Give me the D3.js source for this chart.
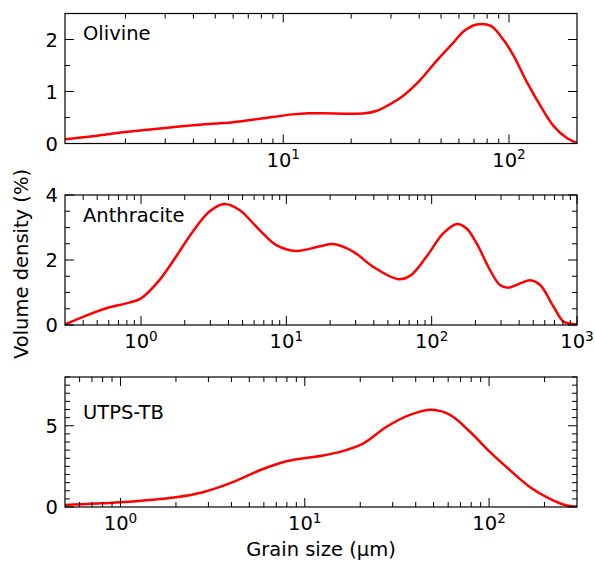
<!DOCTYPE html>
<html><head><meta charset="utf-8">
<script src="https://cdn.jsdelivr.net/npm/d3@7"></script>
<style>body{margin:0;background:#fff} text{font-family:"DejaVu Sans",sans-serif;fill:#000}</style>
</head><body><svg id="c" width="595" height="562"></svg>
<script>
// ---------- data ----------
const panelNames = ["Olivine", "Anthracite", "UTPS-TB"];

const olivineSize    = [1.08, 1.5, 2.0, 3.0, 4.0, 6.0, 8.0, 11, 13, 15, 23, 26, 29, 34, 40, 48, 57, 63, 72, 83, 95, 105, 120, 138, 158, 181, 200];
const olivineDensity = [0.08, 0.15, 0.22, 0.30, 0.35, 0.41, 0.48, 0.56, 0.58, 0.58, 0.58, 0.63, 0.73, 0.92, 1.20, 1.60, 1.95, 2.16, 2.29, 2.26, 1.98, 1.68, 1.18, 0.72, 0.33, 0.10, 0.01];

const anthraciteSize    = [0.3, 0.46, 0.60, 0.83, 1.0, 1.34, 1.74, 2.27, 2.96, 3.75, 4.76, 6.55, 8.53, 11.7, 17, 21, 28.8, 39.6, 59, 71, 92, 120, 149, 174, 204, 252, 295, 337, 406, 476, 558, 690, 809, 949, 1000];
const anthraciteDensity = [0.02, 0.36, 0.54, 0.69, 0.82, 1.38, 2.10, 2.87, 3.49, 3.72, 3.54, 2.92, 2.46, 2.28, 2.42, 2.49, 2.26, 1.79, 1.41, 1.51, 2.10, 2.82, 3.11, 2.97, 2.51, 1.69, 1.23, 1.15, 1.28, 1.38, 1.23, 0.56, 0.10, 0.03, 0.01];

const utpsSize    = [0.5, 1.0, 2.0, 2.8, 4.07, 5.7, 7.95, 12.1, 15.5, 20.7, 27.8, 37.2, 48.9, 61.4, 78.8, 101, 130, 167, 214, 264, 300];
const utpsDensity = [0.13, 0.29, 0.60, 0.91, 1.53, 2.26, 2.81, 3.14, 3.39, 3.90, 4.94, 5.67, 5.98, 5.67, 4.63, 3.39, 2.26, 1.22, 0.50, 0.09, 0.01];

const xDomains = [[1.08, 200], [0.3, 1000], [0.5, 300]];
const yDomains = [[0, 2.5], [0, 4], [0, 8]];
const yMajorTicks = [[0, 1, 2], [0, 2, 4], [0, 5]];
const xMajorTicks = [[10, 100], [1, 10, 100, 1000], [1, 10, 100]];
const xTickExponents = [["1", "2"], ["0", "1", "2", "3"], ["0", "1", "2"]];
const xAxisTitle = "Grain size (μm)";
const yAxisTitle = "Volume density (%)";

const series = [
  {size: olivineSize, dens: olivineDensity},
  {size: anthraciteSize, dens: anthraciteDensity},
  {size: utpsSize, dens: utpsDensity}
];

// ---------- layout ----------
const svg = d3.select("#c");
const left = 65, right = 577, ph = 130;
const tops = [13.5, 195, 377];
const labelFrac = [0.796, 0.795, 0.68];
const fs = 19.5;

series.forEach((s, i) => {
  const top = tops[i], bottom = top + ph;
  const x = d3.scaleLog().domain(xDomains[i]).range([left, right]);
  const y = d3.scaleLinear().domain(yDomains[i]).range([bottom, top]);
  const g = svg.append("g");

  const cid = "clip" + i;
  svg.append("clipPath").attr("id", cid).append("rect")
    .attr("x", left).attr("y", top - 2).attr("width", right - left).attr("height", ph + 2);

  // line
  const pts = s.size.map((v, k) => [v, s.dens[k]]);
  g.append("path").datum(pts)
    .attr("clip-path", `url(#${cid})`)
    .attr("fill", "none").attr("stroke", "#ff0000").attr("stroke-width", 2.5)
    .attr("stroke-linejoin", "round")
    .attr("d", d3.line().x(d => x(d[0])).y(d => y(d[1])).curve(d3.curveCatmullRom.alpha(0.5)));

  // minor x ticks
  const [d0, d1] = xDomains[i];
  const minorX = [];
  for (let e = Math.floor(Math.log10(d0)); e <= Math.ceil(Math.log10(d1)); e++) {
    for (let m = 2; m <= 9; m++) {
      const v = m * Math.pow(10, e);
      if (v > d0 * 1.001 && v < d1 * 0.999) minorX.push(v);
    }
  }
  const tickG = g.append("g").attr("stroke", "#000").attr("stroke-width", 1);
  minorX.forEach(v => {
    const px = x(v);
    tickG.append("line").attr("x1", px).attr("x2", px).attr("y1", bottom).attr("y2", bottom - 5);
    tickG.append("line").attr("x1", px).attr("x2", px).attr("y1", top).attr("y2", top + 5);
  });
  xMajorTicks[i].forEach((v, k) => {
    const px = x(v);
    tickG.append("line").attr("x1", px).attr("x2", px).attr("y1", bottom).attr("y2", bottom - 9);
    tickG.append("line").attr("x1", px).attr("x2", px).attr("y1", top).attr("y2", top + 9);
    const t = g.append("text").attr("x", px).attr("y", bottom + 23)
      .attr("text-anchor", "middle").attr("font-size", fs);
    t.append("tspan").text("10");
    t.append("tspan").attr("dy", -7.5).attr("font-size", fs * 0.7).text(xTickExponents[i][k]);
  });

  // y ticks
  const [y0, y1] = yDomains[i];
  for (let v = y0; v <= y1 + 1e-9; v += 0.5) {
    const major = yMajorTicks[i].some(m => Math.abs(m - v) < 1e-9);
    const len = major ? 9 : 5;
    const py = y(v);
    tickG.append("line").attr("x1", left).attr("x2", left + len).attr("y1", py).attr("y2", py);
    tickG.append("line").attr("x1", right).attr("x2", right - len).attr("y1", py).attr("y2", py);
  }
  yMajorTicks[i].forEach(v => {
    g.append("text").attr("x", left - 7).attr("y", y(v)).attr("dy", "0.36em")
      .attr("text-anchor", "end").attr("font-size", fs).text(d3.format("d")(v));
  });

  // frame
  g.append("rect").attr("x", left).attr("y", top).attr("width", right - left).attr("height", ph)
    .attr("fill", "none").attr("stroke", "#000").attr("stroke-width", 1.2);

  // panel label
  g.append("text").attr("x", left + 18).attr("y", bottom - labelFrac[i] * ph)
    .attr("font-size", fs).text(panelNames[i]);
});

svg.append("text").attr("x", (left + right) / 2).attr("y", 556)
  .attr("text-anchor", "middle").attr("font-size", fs).text(xAxisTitle);
svg.append("text").attr("transform", "translate(28,264) rotate(-90)")
  .attr("text-anchor", "middle").attr("font-size", fs).text(yAxisTitle);
</script></body></html>
